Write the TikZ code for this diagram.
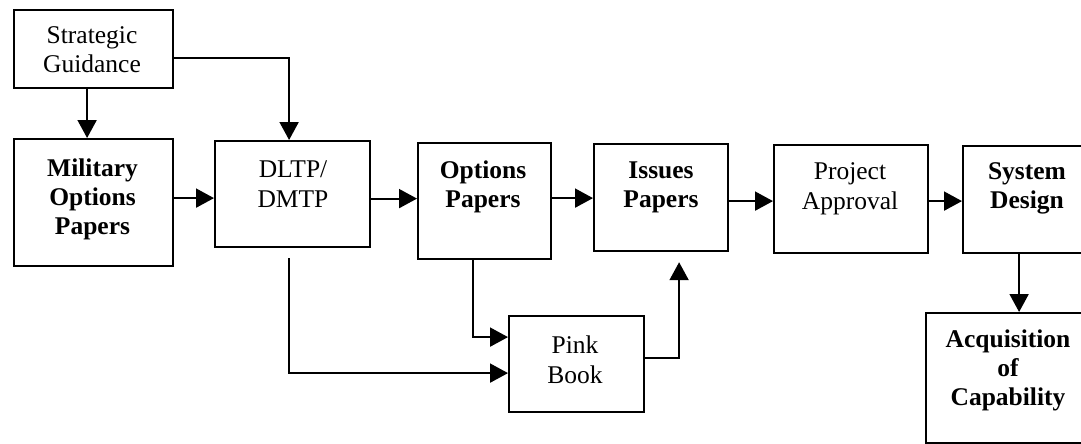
\documentclass[tikz,border=0pt]{standalone}
\usepackage{fontspec}
\setmainfont{Liberation Serif}
\usetikzlibrary{arrows.meta,calc}
\begin{document}
\begin{tikzpicture}[x=1pt,y=-1pt,
  box/.style={draw, line width=2.2pt, rectangle, inner sep=0pt, anchor=north west},
  lbl/.style={align=center, font=\fontsize{25.5}{29.5}\selectfont, inner sep=0pt, anchor=base},
  blbl/.style={lbl, font=\fontsize{25.5}{29}\selectfont\bfseries},
  arr/.style={line width=2pt, -{Triangle[length=18pt,width=19pt]}}]
\useasboundingbox (0,0) rectangle (1081,444);
\clip (0,0) rectangle (1081,444);
% boxes
\node[box, minimum width=159pt, minimum height=78pt]  (strat) at (13,9) {};
\node[box, minimum width=159pt, minimum height=127pt] (mil)   at (13,138) {};
\node[box, minimum width=155pt, minimum height=106pt] (dltp)  at (214,140) {};
\node[box, minimum width=133pt, minimum height=116pt] (opt)   at (417,142) {};
\node[box, minimum width=134pt, minimum height=107pt] (iss)   at (593,143) {};
\node[box, minimum width=154pt, minimum height=108pt] (proj)  at (773,144) {};
\node[box, minimum width=130pt, minimum height=107pt] (sys)   at (962,145) {};
\node[box, minimum width=135pt, minimum height=96pt]  (pink)  at (508,315) {};
\node[box, minimum width=167pt, minimum height=130pt] (acq)   at (925,312) {};
% labels (anchored at baseline of last line)
\node[lbl]  (tstrat) at (92,73)    {Strategic\\Guidance};
\node[blbl] (tmil)   at (92.5,234) {Military\\Options\\Papers};
\node[lbl]  (tdltp)  at (293,207)  {DLTP/\\DMTP};
\node[blbl] (topt)   at (483,207)  {Options\\Papers};
\node[blbl] (tiss)   at (661,207)  {Issues\\Papers};
\node[lbl]  (tproj)  at (850,209)  {Project\\Approval};
\node[blbl] (tsys)   at (1027,208) {System\\Design};
\node[lbl]  (tpink)  at (575,383)  {Pink\\Book};
\node[blbl] (tacq)   at (1008,405) {Acquisition\\of\\Capability};
% connectors
\draw[arr] ([xshift=-6.5pt]strat.south) -- ([xshift=-6.5pt]strat.south |- mil.north);
\draw[arr] ([yshift=-9pt]strat.east) -| ([xshift=-3.5pt]dltp.north);
\draw[arr] ([yshift=4.5pt]mil.east) -- ([yshift=4.5pt]mil.east -| dltp.west);
\draw[arr] ([yshift=-4.5pt]dltp.east) -- ([yshift=-4.5pt]dltp.east -| opt.west);
\draw[arr] ([yshift=3pt]opt.east) -- ([yshift=3pt]opt.east -| iss.west);
\draw[arr] ([yshift=-3.5pt]iss.east) -- ([yshift=-3.5pt]iss.east -| proj.west);
\draw[arr] ([yshift=-2pt]proj.east) -- ([yshift=-2pt]proj.east -| sys.west);
\draw[arr] ([xshift=-9pt]sys.south) -- ([xshift=-9pt]sys.south |- acq.north);
\draw[arr] ([xshift=-3.5pt,yshift=-10pt]dltp.south) |- ([yshift=-9pt]pink.west);
\draw[arr] ([xshift=-11.5pt]opt.south) |- ([yshift=27pt]pink.west);
\draw[arr] ([yshift=6pt]pink.east) -| ([xshift=18pt,yshift=-10pt]iss.south);
\end{tikzpicture}
\end{document}
